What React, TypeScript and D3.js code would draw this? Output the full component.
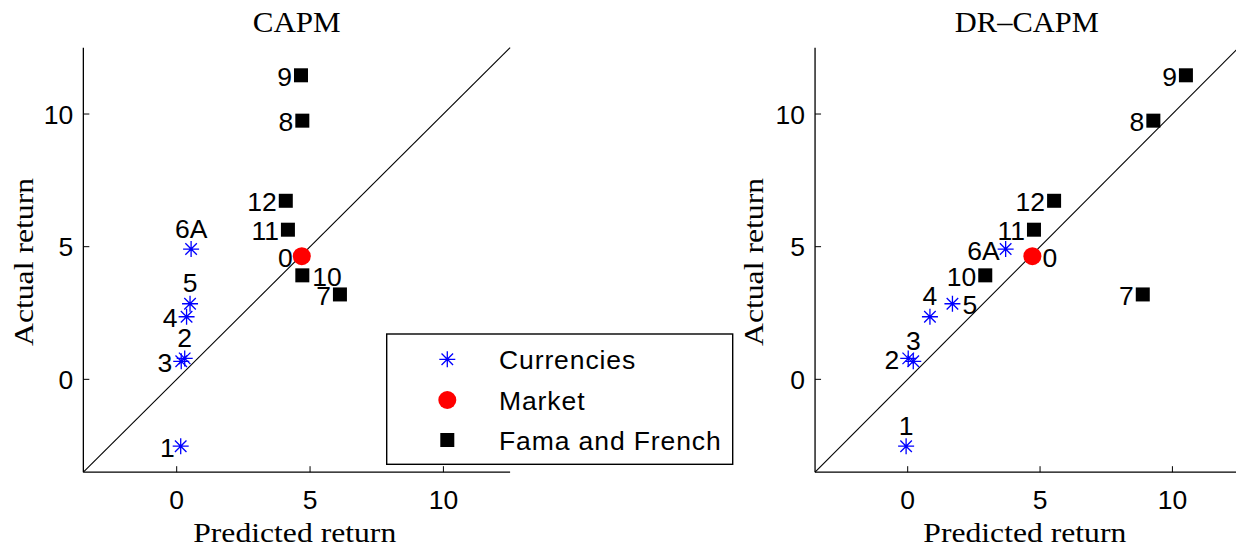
import React from 'react';
import * as d3 from 'd3';

// ---------- data ----------
const pointLabels = ['0', '1', '2', '3', '4', '5', '6A', '7', '8', '9', '10', '11', '12'];
const pointGroups = ['Market', 'Currencies', 'Currencies', 'Currencies', 'Currencies', 'Currencies', 'Currencies',
  'Fama and French', 'Fama and French', 'Fama and French', 'Fama and French', 'Fama and French', 'Fama and French'];
const actualReturn = [4.64, -2.52, 0.79, 0.68, 2.36, 2.85, 4.91, 3.2, 9.75, 11.46, 3.92, 5.64, 6.73];
const capmPredicted = [4.69, 0.15, 0.3, 0.17, 0.37, 0.5, 0.54, 6.12, 4.71, 4.66, 4.71, 4.17, 4.09];
const drCapmPredicted = [4.71, -0.06, 0.02, 0.21, 0.84, 1.69, 3.7, 8.88, 9.28, 10.51, 2.93, 4.77, 5.53];
const axisTicks = [0, 5, 10];
const axisDomain = [-3.5, 12.5];
const legendItems = ['Currencies', 'Market', 'Fama and French'];

// label placement: L = left, T = top, R = right
const capmPlacement = ['L', 'L', 'T', 'L', 'L', 'T', 'T', 'L', 'L', 'L', 'R', 'L', 'L'];
const drCapmPlacement = ['R', 'T', 'L', 'T', 'T', 'R', 'L', 'L', 'L', 'L', 'L', 'L', 'L'];

const SANS = '"Liberation Sans", Arial, Helvetica, sans-serif';
const SERIF = '"Liberation Serif", "Times New Roman", serif';

const BLUE = '#0000ff';
const RED = '#ff0000';
const FS = 26.5;
const BASE = FS * 0.36;

function Star({ x, y, r = 8 }: { x: number; y: number; r?: number }) {
  const d = r * 0.72;
  const p = `M${x - r},${y}L${x + r},${y}M${x},${y - r}L${x},${y + r}` +
    `M${x - d},${y - d}L${x + d},${y + d}M${x - d},${y + d}L${x + d},${y - d}`;
  return <path d={p} stroke={BLUE} strokeWidth={1.3} fill="none" />;
}

function Marker({ group, x, y }: { group: string; x: number; y: number }) {
  if (group === 'Currencies') return <Star x={x} y={y} />;
  if (group === 'Market') return <circle cx={x} cy={y} r={9} fill={RED} />;
  return <rect x={x - 7} y={y - 7} width={14} height={14} fill="#000" />;
}

type PanelProps = {
  title: string;
  titleLen: number;
  predicted: number[];
  placement: string[];
  xRange: [number, number];
  yLabelX: number;
  labelNudge: Record<string, number>;
};

function Panel({ title, titleLen, predicted, placement, xRange, yLabelX, labelNudge }: PanelProps) {
  const x = d3.scaleLinear().domain(axisDomain).range(xRange);
  const y = d3.scaleLinear().domain(axisDomain).range([472.2, 47.7]);
  const [x0, x1] = xRange;
  const yb = y(axisDomain[0]);
  const yt = y(axisDomain[1]);
  const cx = (x0 + x1) / 2;
  const cy = (yb + yt) / 2;
  return (
    <g>
      <line x1={x(axisDomain[0])} y1={y(axisDomain[0])} x2={x(axisDomain[1])} y2={y(axisDomain[1])}
        stroke="#000" strokeWidth={1.1} />
      <line x1={x0} y1={yt} x2={x0} y2={yb} stroke="#000" strokeWidth={1.3} />
      <line x1={x0} y1={yb} x2={x1} y2={yb} stroke="#000" strokeWidth={1.3} />
      {axisTicks.map((t) => (
        <g key={'x' + t}>
          <line x1={x(t)} x2={x(t)} y1={yb} y2={yb - 6} stroke="#000" strokeWidth={1} />
          <text x={x(t)} y={yb + 37} textAnchor="middle" fontFamily={SANS} fontSize={FS}>{t}</text>
        </g>
      ))}
      {axisTicks.map((t) => (
        <g key={'y' + t}>
          <line x1={x0} x2={x0 + 6} y1={y(t)} y2={y(t)} stroke="#000" strokeWidth={1} />
          <text x={x0 - 10} y={y(t) + BASE} textAnchor="end" fontFamily={SANS} fontSize={FS}>{t}</text>
        </g>
      ))}
      {pointLabels.map((lab, i) => (
        <Marker key={'m' + lab} group={pointGroups[i]} x={x(predicted[i])} y={y(actualReturn[i])} />
      ))}
      {pointLabels.map((lab, i) => {
        const px = x(predicted[i]);
        const py = y(actualReturn[i]);
        const pl = placement[i];
        const nudge = labelNudge[lab] || 0;
        let tx = px, ty = py + 1, anchor = 'middle';
        if (pl === 'L') { tx = px - 9 + nudge; anchor = 'end'; }
        else if (pl === 'R') { tx = px + 10 + nudge; anchor = 'start'; }
        else { ty = py - 21; tx = px + nudge; }
        return (
          <text key={'t' + lab} x={tx} y={ty + BASE} textAnchor={anchor} fontFamily={SANS} fontSize={FS}>{lab}</text>
        );
      })}
      <text x={cx} y={32.3} textAnchor="middle" fontFamily={SERIF} fontSize={29}
        textLength={titleLen} lengthAdjust="spacingAndGlyphs">{title}</text>
      <text x={cx - 2} y={541.5} textAnchor="middle" fontFamily={SERIF} fontSize={27}
        textLength={203} lengthAdjust="spacingAndGlyphs">Predicted return</text>
      <text transform={`translate(${yLabelX},${cy + 2}) rotate(-90)`} textAnchor="middle" fontFamily={SERIF}
        fontSize={28} textLength={168} lengthAdjust="spacingAndGlyphs">Actual return</text>
    </g>
  );
}

function Legend() {
  const bx = 386.7, by = 334, bw = 346, bh = 130.3;
  const rows = [359.3, 400, 440];
  const mx = 447.3;
  return (
    <g>
      <rect x={bx} y={by} width={bw} height={bh} fill="#fff" stroke="#000" strokeWidth={1.4} />
      {legendItems.map((item, i) => (
        <g key={item}>
          <Marker group={item} x={mx} y={rows[i]} />
          <text x={499} y={rows[i] + BASE} fontFamily={SANS} fontSize={FS} letterSpacing={0.9}>{item}</text>
        </g>
      ))}
    </g>
  );
}

export default function App() {
  return (
    <svg width={1236} height={548} style={{ position: 'absolute', left: 0, top: 0, background: '#fff' }}>
      <rect x={0} y={0} width={1236} height={548} fill="#fff" />
      <Panel title="CAPM" titleLen={88} predicted={capmPredicted} placement={capmPlacement}
        xRange={[83.35, 510.1]} yLabelX={33} labelNudge={{ '1': 3 }} />
      <Panel title="DR–CAPM" titleLen={144} predicted={drCapmPredicted} placement={drCapmPlacement}
        xRange={[815.05, 1238.6]} yLabelX={763} labelNudge={{ '6A': 3 }} />
      <Legend />
    </svg>
  );
}
